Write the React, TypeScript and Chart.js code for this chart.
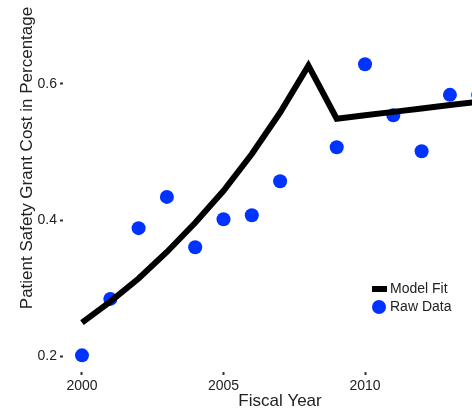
import React, { useEffect, useRef } from "react";
import { Chart, registerables } from "chart.js";

Chart.register(...registerables);

const rawYears = [2000, 2001, 2002, 2003, 2004, 2005, 2006, 2007, 2009, 2010, 2011, 2012, 2013, 2014];
const rawValues = [0.201, 0.284, 0.388, 0.434, 0.36, 0.401, 0.407, 0.457, 0.507, 0.629, 0.554, 0.501, 0.584, 0.584];

const fitYears = [2000, 2001, 2002, 2003, 2004, 2005, 2006, 2007, 2008, 2009, 2010, 2011, 2012, 2013, 2014];
const fitValues = [0.249, 0.28, 0.314, 0.353, 0.396, 0.443, 0.497, 0.558, 0.627, 0.549, 0.554, 0.559, 0.564, 0.569, 0.574];

const xTicks = [2000, 2005, 2010];
const yTicks = [0.2, 0.4, 0.6];

const FONT = "'Liberation Sans', Arial, sans-serif";
const BLUE = "#0033ff";
const TEXT = "#222222";

const overlay = {
  id: "overlay",
  afterDraw(chart: any) {
    const ctx = chart.ctx;
    ctx.save();
    ctx.fillStyle = TEXT;
    ctx.font = `17px ${FONT}`;
    ctx.textAlign = "center";
    ctx.textBaseline = "middle";
    ctx.fillText("Fiscal Year", 280, 401);
    ctx.save();
    ctx.translate(27, 158);
    ctx.rotate(-Math.PI / 2);
    ctx.fillText("Patient Safety Grant Cost in Percentage", 0, 0);
    ctx.restore();
    // legend
    ctx.fillStyle = "#000";
    ctx.fillRect(372, 286, 15, 6);
    ctx.beginPath();
    ctx.fillStyle = BLUE;
    ctx.arc(379, 307, 7, 0, Math.PI * 2);
    ctx.fill();
    ctx.fillStyle = TEXT;
    ctx.font = `14px ${FONT}`;
    ctx.textAlign = "left";
    ctx.fillText("Model Fit", 390, 289);
    ctx.fillText("Raw Data", 390, 307);
    ctx.restore();
  },
};

export default function App() {
  const ref = useRef<HTMLCanvasElement>(null);
  useEffect(() => {
    if (!ref.current) return;
    const chart = new Chart(ref.current, {
      type: "line",
      data: {
        datasets: [
          {
            label: "Model Fit",
            data: fitYears.map((x, i) => ({ x, y: fitValues[i] })),
            borderColor: "#000",
            borderWidth: 6,
            pointRadius: 0,
            tension: 0,
            fill: false,
            clip: false as any,
          },
          {
            label: "Raw Data",
            data: rawYears.map((x, i) => ({ x, y: rawValues[i] })),
            showLine: false,
            pointRadius: 7,
            pointBackgroundColor: BLUE,
            pointBorderWidth: 0,
            borderColor: BLUE,
            clip: false as any,
          },
        ],
      },
      options: {
        responsive: false,
        animation: false,
        devicePixelRatio: 1,
        layout: { padding: 0, autoPadding: false },
        plugins: { legend: { display: false }, tooltip: { enabled: false } },
        scales: {
          x: {
            type: "linear",
            min: 1999.329,
            max: 2013.78,
            afterBuildTicks: (s: any) => {
              s.ticks = xTicks.map((v) => ({ value: v }));
            },
            afterFit: (s: any) => {
              s.height = 39;
              s.paddingLeft = 0;
              s.paddingRight = 0;
            },
            ticks: {
              callback: (v: any) => String(v),
              font: { family: FONT, size: 14 },
              color: TEXT,
              padding: 3,
              maxRotation: 0,
              autoSkip: false,
            },
            grid: { drawOnChartArea: false, drawTicks: true, tickLength: 3, tickWidth: 2, tickColor: "#333" },
            border: { display: false },
          },
          y: {
            type: "linear",
            min: 0.1765,
            max: 0.7235,
            afterBuildTicks: (s: any) => {
              s.ticks = yTicks.map((v) => ({ value: v }));
            },
            afterFit: (s: any) => {
              s.width = 63;
              s.paddingTop = 0;
              s.paddingBottom = 0;
            },
            ticks: {
              callback: (v: any) => Number(v).toFixed(1),
              font: { family: FONT, size: 14 },
              color: TEXT,
              padding: 3,
              autoSkip: false,
            },
            grid: { drawOnChartArea: false, drawTicks: true, tickLength: 3, tickWidth: 2, tickColor: "#333" },
            border: { display: false },
          },
        },
      },
      plugins: [overlay],
    });
    return () => chart.destroy();
  }, []);
  return (
    <canvas
      ref={ref}
      width={472}
      height={411}
      style={{ position: "fixed", left: 0, top: 0, display: "block", width: 472, height: 411 }}
    />
  );
}
